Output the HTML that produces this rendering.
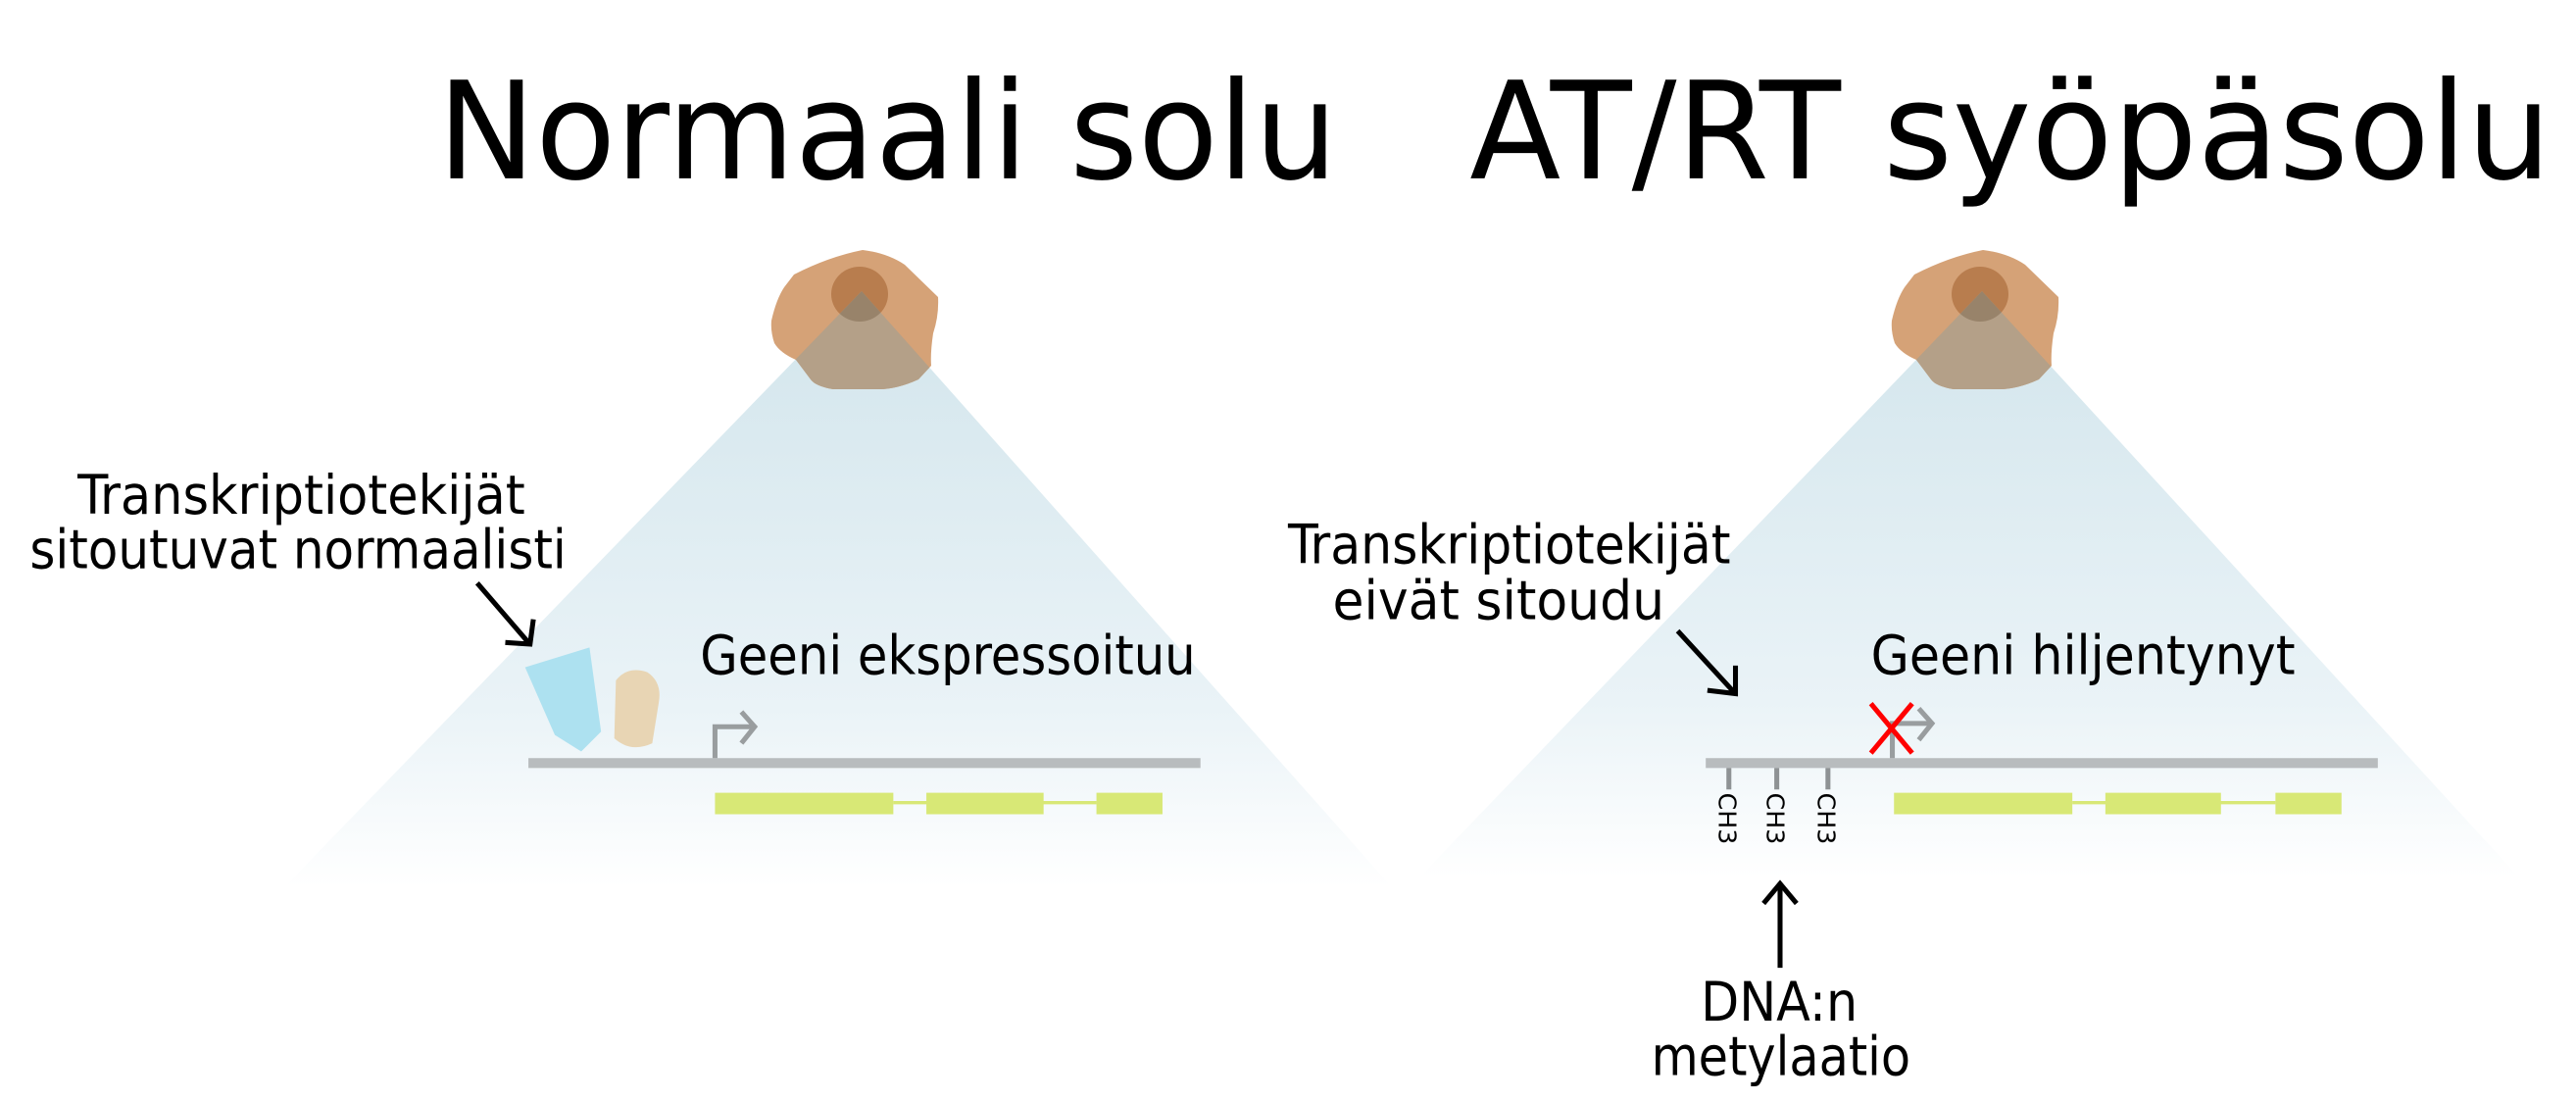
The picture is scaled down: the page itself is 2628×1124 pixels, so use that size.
<!DOCTYPE html>
<html><head><meta charset="utf-8"><style>
html,body{margin:0;padding:0;background:#fff;}
svg{display:block;}
text{font-family:"DejaVu Sans","Liberation Sans",sans-serif;fill:#000;}
.lab{font-family:"DejaVu Sans Condensed","DejaVu Sans","Liberation Sans Narrow",sans-serif;font-size:33px;}
</style></head><body>
<svg width="2628" height="1124" viewBox="0 0 2628 1124" xmlns="http://www.w3.org/2000/svg">
<defs>
<linearGradient id="g" x1="0" y1="0" x2="0" y2="1">
<stop offset="0" stop-color="#d2e5ec"/><stop offset="0.7" stop-color="#eaf3f7"/><stop offset="1" stop-color="#ffffff"/>
</linearGradient>
<clipPath id="triL"><polygon points="879,297 290,905 1420,905"/></clipPath>
<clipPath id="triR"><polygon points="2022,297 1448,895 2570,895"/></clipPath>
<path id="cell" d="M810,280 Q845,262 880,255 Q905,258 923,270 L957,303 Q958,322 952,340 Q949,360 950,373 L937,387 Q915,397 897,397 L850,397 Q832,394 827,387 L812,367 Q796,360 790,350 Q786,338 787,327 Q792,305 800,293 Z"/>
<ellipse id="nuc" cx="877" cy="300" rx="29" ry="28"/>
</defs>
<polygon points="879,297 290,905 1420,905" fill="url(#g)"/>
<use href="#cell" fill="#d5a277"/>
<use href="#nuc" fill="#b87d4e"/>
<g clip-path="url(#triL)"><use href="#cell" fill="#b4a088"/><use href="#nuc" fill="#98836a"/></g>
<polygon points="2022,297 1448,895 2570,895" fill="url(#g)"/>
<g transform="translate(1143,0)">
<use href="#cell" fill="#d5a277"/>
<use href="#nuc" fill="#b87d4e"/>
</g>
<g clip-path="url(#triR)"><g transform="translate(1143,0)"><use href="#cell" fill="#b4a088"/><use href="#nuc" fill="#98836a"/></g></g>

<g transform="scale(1.6846)">
<text x="265" y="108" font-size="82" textLength="545" lengthAdjust="spacingAndGlyphs">Normaali solu</text>
<text x="890" y="108" font-size="82" textLength="655" lengthAdjust="spacingAndGlyphs">AT/RT syöpäsolu</text>

<text class="lab" x="47" y="311" textLength="271" lengthAdjust="spacingAndGlyphs">Transkriptiotekijät</text>
<text class="lab" x="18" y="344" textLength="325" lengthAdjust="spacingAndGlyphs">sitoutuvat normaalisti</text>
<line x1="289" y1="353" x2="320" y2="389" stroke="#000" stroke-width="3"/>
<polyline points="306,389 321,390 323,375" fill="none" stroke="#000" stroke-width="3"/>
<polygon points="318,404 357,392 364,443 352,455 336,445" fill="#ade1f0"/>
<path d="M373,412 Q380,403 392,407 Q401,413 399,425 L395,450 Q382,456 372,447 Z" fill="#e8d5b4"/>
<text class="lab" x="424" y="408" textLength="300" lengthAdjust="spacingAndGlyphs">Geeni ekspressoituu</text>
<rect x="320" y="459" width="407" height="6" fill="#b8bcbe"/>
<polyline points="433,459 433,440 456,440" fill="none" stroke="#999d9f" stroke-width="3"/>
<polyline points="449,431 457,440 449,450" fill="none" stroke="#999d9f" stroke-width="3"/>
<rect x="433" y="480" width="108" height="13" fill="#d8e876"/>
<rect x="561" y="480" width="71" height="13" fill="#d8e876"/>
<rect x="664" y="480" width="40" height="13" fill="#d8e876"/>
<line x1="541" y1="486" x2="664" y2="486" stroke="#d8e876" stroke-width="2"/>

<text class="lab" x="780" y="341" textLength="268" lengthAdjust="spacingAndGlyphs">Transkriptiotekijät</text>
<text class="lab" x="807" y="375" textLength="201" lengthAdjust="spacingAndGlyphs">eivät sitoudu</text>
<line x1="1016" y1="382" x2="1050" y2="419" stroke="#000" stroke-width="3"/>
<polyline points="1034,418 1051,420 1051,403" fill="none" stroke="#000" stroke-width="3"/>
<text class="lab" x="1133" y="408" textLength="257" lengthAdjust="spacingAndGlyphs">Geeni hiljentynyt</text>
<rect x="1033" y="459" width="407" height="6" fill="#b8bcbe"/>
<polyline points="1146,459 1146,438 1169,438" fill="none" stroke="#999d9f" stroke-width="3"/>
<polyline points="1162,429 1170,438 1162,448" fill="none" stroke="#999d9f" stroke-width="3"/>
<line x1="1133" y1="426" x2="1158" y2="456" stroke="#f00" stroke-width="3"/>
<line x1="1158" y1="426" x2="1133" y2="456" stroke="#f00" stroke-width="3"/>
<g stroke="#8e9294" stroke-width="3">
<line x1="1047" y1="465" x2="1047" y2="478"/><line x1="1076" y1="465" x2="1076" y2="478"/><line x1="1107" y1="465" x2="1107" y2="478"/>
</g>
<g font-size="15">
<text transform="translate(1041,480) rotate(90)">CH3</text>
<text transform="translate(1070,480) rotate(90)">CH3</text>
<text transform="translate(1101,480) rotate(90)">CH3</text>
</g>
<rect x="1147" y="480" width="108" height="13" fill="#d8e876"/>
<rect x="1275" y="480" width="70" height="13" fill="#d8e876"/>
<rect x="1378" y="480" width="40" height="13" fill="#d8e876"/>
<line x1="1255" y1="486" x2="1378" y2="486" stroke="#d8e876" stroke-width="2"/>
<line x1="1078" y1="586" x2="1078" y2="536" stroke="#000" stroke-width="3"/>
<polyline points="1068,547 1078,535 1088,547" fill="none" stroke="#000" stroke-width="3"/>
<text class="lab" x="1030" y="618" textLength="95" lengthAdjust="spacingAndGlyphs">DNA:n</text>
<text class="lab" x="1000" y="651" textLength="157" lengthAdjust="spacingAndGlyphs">metylaatio</text>
</g>
</svg>
</body></html>
